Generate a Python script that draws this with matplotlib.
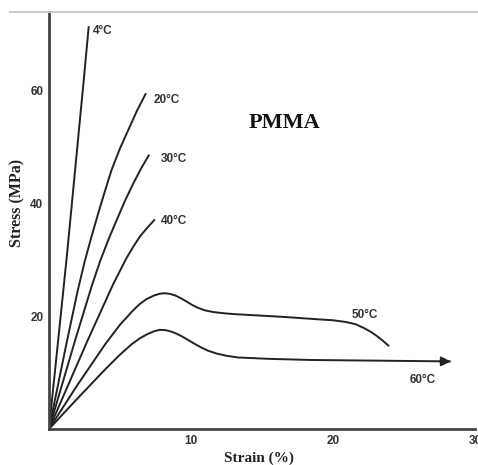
import numpy as np
import matplotlib
matplotlib.use('Agg')
import matplotlib.pyplot as plt
from matplotlib.lines import Line2D

# strain (%) / stress (MPa)
strain_4 = [0, 1.25, 2.45, 2.8]
stress_4 = [0, 30.5, 62, 71.5]

strain_20 = [0, 1.2, 2.0, 2.5, 3.0, 3.47, 3.95, 4.41, 5.0, 5.59, 6.2, 6.83]
stress_20 = [0, 14.8, 24.3, 29.6, 34.2, 38.3, 42.3, 46.0, 49.8, 53.1, 56.5, 59.6]

strain_30 = [0, 1.8, 3.0, 3.6, 4.2, 4.77, 5.35, 5.94, 6.5, 7.06]
stress_30 = [0, 15.4, 25.3, 29.8, 33.7, 37.1, 40.5, 43.6, 46.3, 48.7]

strain_40 = [0, 2.7, 4.5, 5.45, 5.95, 6.41, 6.95, 7.46]
stress_40 = [0, 15.6, 25.6, 30.3, 32.4, 34.2, 35.8, 37.2]

strain_50 = [0, 2, 4, 5, 5.9, 6.4, 6.9, 7.4, 7.8, 8.1, 8.5, 8.9, 9.3, 9.7, 10.1, 10.5,
             11.0, 11.6, 12.3, 13.0, 16.5, 18.5, 20.0, 20.9, 21.6, 22.2, 22.7, 23.1, 23.5, 23.96]
stress_50 = [0, 7.8, 15.2, 18.5, 21.0, 22.2, 23.1, 23.7, 24.0, 24.1, 24.0, 23.7, 23.2, 22.6,
             22.0, 21.5, 21.05, 20.75, 20.55, 20.4, 19.9, 19.55, 19.3, 19.0, 18.6, 17.9, 17.2,
             16.5, 15.7, 14.7]

strain_60 = [0, 2, 4, 5, 5.8, 6.4, 6.9, 7.4, 7.8, 8.2, 8.6, 9.0, 9.4, 9.8, 10.2, 10.7,
             11.2, 11.8, 12.5, 13.3, 15.5, 18.5, 28.3]
stress_60 = [0, 5.4, 10.7, 13.2, 15.0, 16.1, 16.8, 17.35, 17.6, 17.55, 17.3, 16.9, 16.4,
             15.8, 15.2, 14.5, 13.9, 13.4, 13.0, 12.7, 12.45, 12.25, 12.0]

labels = ['4°C', '20°C', '30°C', '40°C', '50°C', '60°C']
label_x = [3.8, 8.3, 8.8, 8.8, 22.25, 26.3]
label_y = [70.7, 58.4, 47.9, 36.9, 20.2, 8.7]

x_ticks = [10, 20, 30]
y_ticks = [20, 40, 60]

fig = plt.figure(figsize=(4.78, 4.65), dpi=100)
ax = fig.add_axes([0.1025, 0.0774, 0.891, 0.8966])

curves = [(strain_4, stress_4), (strain_20, stress_20), (strain_30, stress_30),
          (strain_40, stress_40), (strain_50, stress_50), (strain_60, stress_60)]
for sx, sy in curves:
    ax.plot(sx, sy, color='#222222', lw=1.4, solid_capstyle='butt', solid_joinstyle='round')

# arrow head at the end of the 60°C curve
ax.annotate('', xy=(strain_60[-1], stress_60[-1]), xytext=(strain_60[-1] - 0.8, stress_60[-1]),
            arrowprops=dict(arrowstyle='-|>', color='#222222', lw=1.4, mutation_scale=14,
                            shrinkA=0, shrinkB=0))

for t, x, y in zip(labels, label_x, label_y):
    ax.text(x, y, t, ha='center', va='center', fontsize=8.5, fontweight='bold',
            family='Liberation Sans', color='#333333')

ax.text(16.6, 54.4, 'PMMA', ha='center', va='center', fontsize=16, fontweight='bold',
        family='Liberation Serif', color='#111111')

ax.set_xlim(0, 30)
ax.set_ylim(0, 74)
ax.set_xticks(x_ticks)
ax.set_yticks(y_ticks)
ax.tick_params(length=0, pad=4, labelsize=8.5, labelcolor='#333333')
for lab in ax.get_xticklabels() + ax.get_yticklabels():
    lab.set_fontweight('bold')
    lab.set_family('Liberation Sans')

for s in ['top', 'right']:
    ax.spines[s].set_visible(False)
for s in ['left', 'bottom']:
    ax.spines[s].set_linewidth(2)
    ax.spines[s].set_color('#444444')

fig.text(17 / 478, 1 - 203 / 465, 'Stress (MPa)', rotation=90, ha='center', va='center',
         fontsize=11.5, fontweight='bold', family='Liberation Serif', color='#222222')
fig.text(259 / 478, 1 - 458 / 465, 'Strain (%)', ha='center', va='center',
         fontsize=11, fontweight='bold', family='Liberation Serif', color='#222222')

# thin grey rule across the top of the picture
fig.add_artist(Line2D([10 / 478, 1], [1 - 12 / 465, 1 - 12 / 465], color='#c4c4c4', lw=1.3))

fig.savefig('out.png', dpi=100)
